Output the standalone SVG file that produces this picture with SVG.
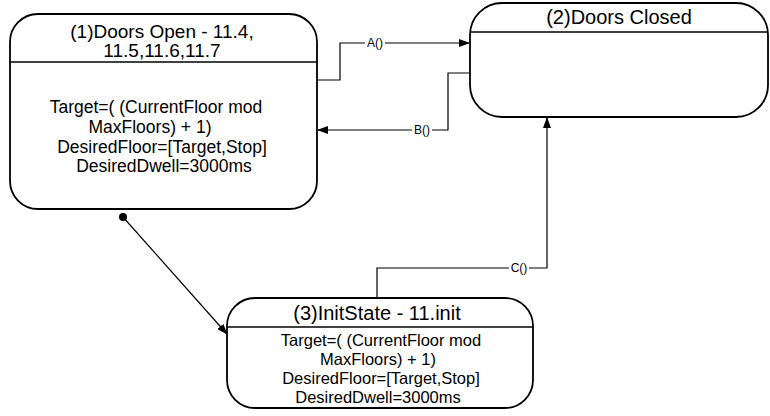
<svg xmlns="http://www.w3.org/2000/svg" width="770" height="416" viewBox="0 0 770 416">
<style>
.box{fill:#fff;stroke:#000;stroke-width:1.8}
.div{stroke:#000;stroke-width:1.5}
.t{font-family:"Liberation Sans",Arial,sans-serif;fill:#000;text-anchor:middle}
.title{font-size:20px}
.title1{font-size:19px}
.body1{font-size:17.5px}
.body3{font-size:16.5px}
.lbl{font-size:12px}
.con{fill:none;stroke:#000;stroke-width:1.2}
.bg{fill:#fff}
</style>
<defs>
<marker id="ah" markerWidth="11" markerHeight="8" refX="10" refY="4" orient="auto" markerUnits="userSpaceOnUse">
<path d="M0,0 L11,4 L0,8 z" fill="#000"/>
</marker>
</defs>
<rect width="770" height="416" fill="#fff"/>
<g id="connectors">
<polyline class="con" points="317,80 340,80 340,43 469,43" marker-end="url(#ah)"/>
<polyline class="con" points="470,73 448,73 448,130 318,130" marker-end="url(#ah)"/>
<polyline class="con" points="377,298 377,268 547,268 547,118" marker-end="url(#ah)"/>
<circle cx="123" cy="217" r="4" fill="#000"/>
<line class="con" x1="123" y1="217" x2="227" y2="334" stroke-width="1.6" marker-end="url(#ah)"/>
<rect class="bg" x="365" y="36" width="20" height="14"/>
<text class="t lbl" x="375" y="47">A()</text>
<rect class="bg" x="412" y="123" width="20" height="14"/>
<text class="t lbl" x="422" y="134">B()</text>
<rect class="bg" x="509" y="261" width="20" height="14"/>
<text class="t lbl" x="519" y="272">C()</text>
</g>
<g id="node1">
<rect class="box" x="10" y="14" width="307" height="195" rx="28" ry="28"/>
<line class="div" x1="10" y1="62" x2="317" y2="62"/>
<text class="t title1" x="162" y="38">(1)Doors Open - 11.4,</text>
<text class="t title1" x="162" y="57">11.5,11.6,11.7</text>
<text class="t body1" x="156" y="113">Target=( (CurrentFloor mod</text>
<text class="t body1" x="150" y="133">MaxFloors) + 1)</text>
<text class="t body1" x="162" y="153">DesiredFloor=[Target,Stop]</text>
<text class="t body1" x="164" y="172">DesiredDwell=3000ms</text>
</g>
<g id="node2">
<rect class="box" x="470" y="3" width="298" height="114" rx="32" ry="32"/>
<line class="div" x1="470" y1="32" x2="768" y2="32"/>
<text class="t title" x="619" y="24">(2)Doors Closed</text>
</g>
<g id="node3">
<rect class="box" x="227" y="298" width="306" height="110" rx="28" ry="28"/>
<line class="div" x1="227" y1="327" x2="533" y2="327"/>
<text class="t title" x="377" y="320">(3)InitState - 11.init</text>
<text class="t body3" x="381" y="346">Target=( (CurrentFloor mod</text>
<text class="t body3" x="378" y="365">MaxFloors) + 1)</text>
<text class="t body3" x="381" y="384">DesiredFloor=[Target,Stop]</text>
<text class="t body3" x="378" y="403">DesiredDwell=3000ms</text>
</g>
</svg>
